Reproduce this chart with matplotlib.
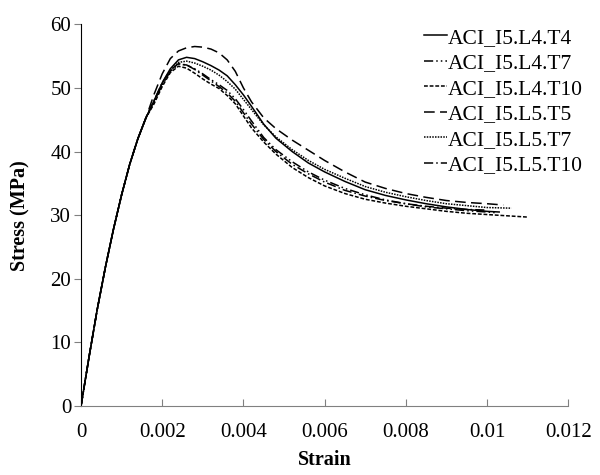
import matplotlib
matplotlib.use('Agg')
import matplotlib.pyplot as plt
from matplotlib.ticker import FuncFormatter

plt.rcParams['font.family'] = ['Liberation Serif', 'DejaVu Serif']

# Tramo ascendente comun a todas las probetas
rise_strain = [0, 0.0002, 0.0004, 0.0006, 0.0008, 0.001, 0.0012, 0.0014, 0.0016]
rise_stress = [0, 7.8, 15.2, 21.8, 27.8, 33.2, 38.0, 42.0, 45.3]

tail_strain = [0.0018, 0.002, 0.0022, 0.0024, 0.0026, 0.0028, 0.003, 0.0032, 0.0034,
               0.0036, 0.0038, 0.004, 0.0042, 0.0045, 0.0048, 0.0052, 0.0056, 0.006,
               0.0065, 0.007, 0.0075, 0.008, 0.0085, 0.009, 0.0095, 0.01]

labels = ['ACI_I5.L4.T4', 'ACI_I5.L4.T7', 'ACI_I5.L4.T10',
          'ACI_I5.L5.T5', 'ACI_I5.L5.T7', 'ACI_I5.L5.T10']

l4t4 = [48.0, 50.8, 53.0, 54.4, 54.8, 54.6, 54.1, 53.5, 52.8, 51.9, 50.5, 48.9, 47.1,
        44.3, 42.1, 40.0, 38.2, 36.8, 35.3, 34.0, 33.1, 32.4, 31.8, 31.3, 30.9, 30.6]
l4t7 = [47.8, 50.5, 52.6, 53.7, 53.6, 53.0, 52.2, 51.3, 50.5, 49.6, 48.3, 46.6, 44.8,
        42.2, 40.3, 38.4, 36.8, 35.5, 34.2, 33.2, 32.4, 31.8, 31.3, 31.0, 30.7, 30.5]
l4t10 = [47.5, 50.2, 52.4, 53.4, 53.1, 52.3, 51.4, 50.6, 49.9, 48.8, 47.5, 45.6, 43.7,
         41.5, 39.6, 37.5, 35.9, 34.6, 33.4, 32.5, 31.9, 31.4, 31.0, 30.6, 30.3, 30.1]
l5t5 = [49.0, 52.2, 54.6, 55.8, 56.3, 56.5, 56.4, 56.1, 55.5, 54.4, 52.6, 50.0, 47.8,
        45.3, 43.6, 41.8, 40.2, 38.6, 36.8, 35.2, 34.2, 33.4, 32.8, 32.3, 32.0, 31.8]
l5t7 = [47.8, 50.5, 52.7, 54.0, 54.2, 53.9, 53.4, 52.8, 52.0, 51.0, 49.8, 48.2, 46.6,
        44.2, 42.3, 40.3, 38.6, 37.2, 35.8, 34.5, 33.6, 32.9, 32.3, 31.8, 31.5, 31.2]
l5t10 = [48.0, 50.8, 52.8, 53.8, 53.6, 52.9, 52.0, 51.1, 50.2, 49.2, 47.9, 46.1, 44.3,
         41.9, 40.0, 38.0, 36.5, 35.2, 33.9, 33.0, 32.3, 31.8, 31.4, 31.1, 30.9, 30.8]

# ultimo punto de cada ensayo (deformacion, tension)
end_points = [(0.0103, 30.5), (0.0102, 30.4), (0.011, 29.7),
              (0.0104, 31.6), (0.0106, 31.1), (0.01, 30.8)]

series = [l4t4, l4t7, l4t10, l5t5, l5t7, l5t10]
styles = ['-', (0, (6, 2, 1, 2, 1, 2)), (0, (2.5, 1.2)),
          (0, (7, 3.5)), (0, (1, 0.8)), (0, (6, 2, 1, 2))]

fig = plt.figure(figsize=(6, 4.75), dpi=100)
ax = fig.add_axes([0.135, 0.145, 0.812, 0.804])

for lab, vals, ls, (e_end, s_end) in zip(labels, series, styles, end_points):
    n = len([e for e in tail_strain if e < e_end])
    xs = rise_strain + tail_strain[:n] + [e_end]
    ys = rise_stress + vals[:n] + [s_end]
    ax.plot(xs, ys, color='black', linestyle=ls, linewidth=1.1, label=lab)

ax.set_xlim(0, 0.012)
ax.set_ylim(0, 60)
ax.set_xticks([0, 0.002, 0.004, 0.006, 0.008, 0.01, 0.012])
ax.set_yticks(range(0, 61, 10))
ax.xaxis.set_major_formatter(FuncFormatter(lambda v, p: '%g' % v))

ax.spines['top'].set_visible(False)
ax.spines['right'].set_visible(False)
ax.spines['bottom'].set_color('#808080')
ax.spines['left'].set_color('black')
ax.tick_params(axis='x', direction='in', length=5, color='#808080', labelsize=15, pad=12)
ax.tick_params(axis='y', direction='out', length=5, color='#808080', labelsize=15, pad=2)

ax.set_xlabel('Strain', fontsize=14.5, fontweight='bold', labelpad=6)
ax.set_ylabel('Stress (MPa)', fontsize=14.5, fontweight='bold', labelpad=14)

leg = ax.legend(loc='upper right', bbox_to_anchor=(1.06, 1.03), frameon=False,
                fontsize=15.5, handlelength=1.1, handletextpad=0.0,
                labelspacing=0.25, borderpad=0.2)

fig.savefig('out.png', dpi=100)
